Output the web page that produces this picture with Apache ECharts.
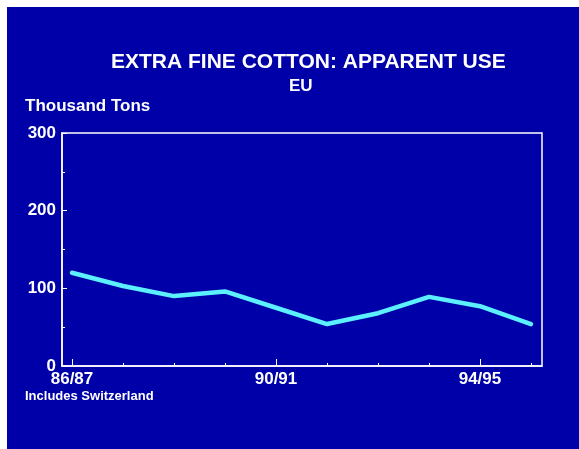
<!DOCTYPE html>
<html>
<head>
<meta charset="utf-8">
<script src="https://cdn.jsdelivr.net/npm/echarts@6/dist/echarts.min.js"></script>
<style>
  html, body { margin: 0; padding: 0; background: #ffffff; }
  #chart { position: absolute; left: 7px; top: 7px; width: 572px; height: 442px; }
</style>
</head>
<body>
<div id="chart"></div>
<script>
// Marketing years shown on the x axis (one point per year)
const seasons = ['86/87', '87/88', '88/89', '89/90', '90/91', '91/92', '92/93', '93/94', '94/95', '95/96'];
// Apparent use, thousand tons
const apparentUse = [120, 103, 90, 96, 75, 54, 68, 89, 77, 54];
// Seasons that carry a label under the axis
const labelledSeasons = ['86/87', '90/91', '94/95'];
// Y axis tick labels
const yTicks = [0, 100, 200, 300];

const FONT = '"Liberation Sans", Arial, Helvetica, sans-serif';
const WHITE = '#ffffff';

const allIdx = seasons.map((s, i) => i);
const labelIdx = labelledSeasons.map(s => seasons.indexOf(s));

const chart = echarts.init(document.getElementById('chart'), null, { renderer: 'canvas' });

const txt = (size, spacing) => ({
  color: WHITE, fontSize: size, fontWeight: 'bold', fontFamily: FONT, letterSpacing: spacing
});

chart.setOption({
  backgroundColor: '#0000a8',
  animation: false,
  textStyle: { fontFamily: FONT },
  title: [
    { text: 'EXTRA FINE COTTON: APPARENT USE', left: 99, top: 40, textStyle: txt(21, -0.25) },
    { text: 'EU', left: 277, top: 66, textStyle: txt(17, -0.3) },
    { text: 'Thousand Tons', left: 13, top: 86, textStyle: txt(17, -0.5) },
    { text: 'Includes Switzerland', left: 13, top: 378, textStyle: txt(13, -0.1) }
  ],
  grid: {
    left: 55, top: 126, right: 37, bottom: 83,
    show: true, borderColor: WHITE, borderWidth: 1.5, backgroundColor: 'transparent'
  },
  xAxis: [
    {
      type: 'value', min: -0.196, max: 9.216,
      axisLine: { show: true, onZero: false, lineStyle: { color: WHITE, width: 1.5 } },
      splitLine: { show: false },
      axisTick: { show: true, inside: true, length: 7, lineStyle: { color: WHITE, width: 1 },
        customValues: labelIdx },
      axisLabel: { show: true, margin: 5, ...txt(17, -0.5),
        customValues: labelIdx, formatter: v => seasons[Math.round(v)] }
    },
    {
      type: 'value', min: -0.196, max: 9.216, position: 'bottom',
      axisLine: { show: false, onZero: false },
      splitLine: { show: false },
      axisTick: { show: true, inside: true, length: 3, lineStyle: { color: WHITE, width: 1 },
        customValues: allIdx },
      axisLabel: { show: false }
    }
  ],
  yAxis: {
    type: 'value', min: 0, max: 300, interval: 100,
    axisLine: { show: true, onZero: false, lineStyle: { color: WHITE, width: 1.5 } },
    splitLine: { show: false },
    axisTick: { show: true, inside: true, length: 5, lineStyle: { color: WHITE, width: 1 } },
    minorTick: { show: true, splitNumber: 2, length: 3, lineStyle: { color: WHITE, width: 1 } },
    axisLabel: { show: true, margin: 6, ...txt(17, -0.5), customValues: yTicks }
  },
  series: [{
    type: 'line',
    xAxisIndex: 0,
    data: apparentUse.map((v, i) => [i, v]),
    showSymbol: false,
    lineStyle: { color: '#5cf0ff', width: 4.5, cap: 'round', join: 'round' }
  }]
});
</script>
</body>
</html>
